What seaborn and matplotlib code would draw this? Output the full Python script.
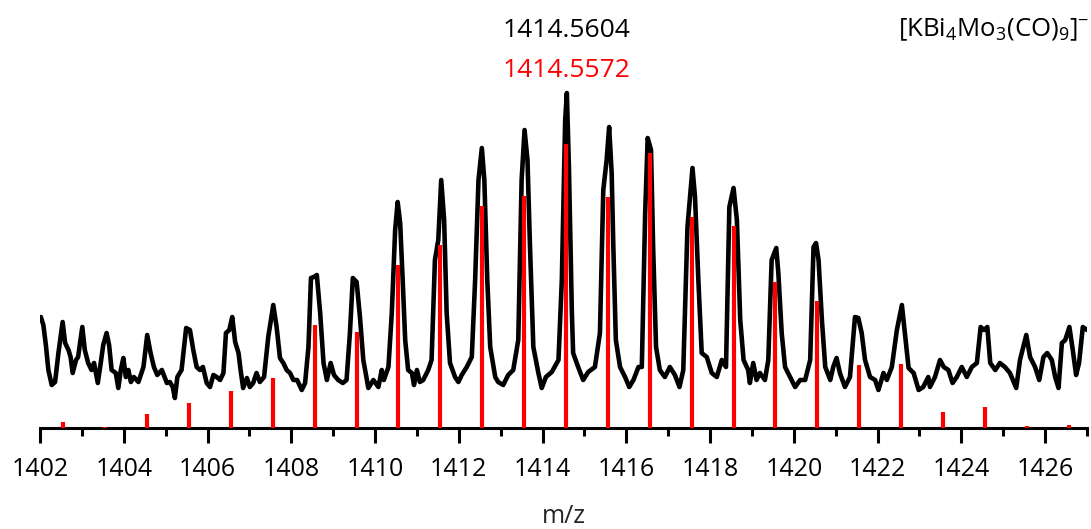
import numpy as np
import pandas as pd
import seaborn as sns
import matplotlib.pyplot as plt
from matplotlib.ticker import MultipleLocator

# experimental trace (m/z, intensity in arbitrary units)
exp_mz = [
    1402.02, 1402.08, 1402.14, 1402.20, 1402.28, 1402.36, 1402.44, 1402.54, 1402.60, 1402.68,
    1402.73, 1402.78, 1402.86, 1402.91, 1403.01, 1403.07, 1403.15, 1403.23, 1403.29, 1403.38,
    1403.45, 1403.51, 1403.59, 1403.65, 1403.71, 1403.81, 1403.87, 1403.93, 1403.99, 1404.05,
    1404.11, 1404.17, 1404.24, 1404.35, 1404.47, 1404.56, 1404.64, 1404.72, 1404.80, 1404.91,
    1405.03, 1405.10, 1405.17, 1405.22, 1405.28, 1405.38, 1405.49, 1405.58, 1405.66, 1405.74,
    1405.82, 1405.89, 1405.98, 1406.06, 1406.14, 1406.22, 1406.30, 1406.38, 1406.44, 1406.52,
    1406.59, 1406.66, 1406.74, 1406.79, 1406.85, 1406.94, 1407.01, 1407.09, 1407.17, 1407.25,
    1407.35, 1407.45, 1407.57, 1407.65, 1407.73, 1407.81, 1407.89, 1407.97, 1408.05, 1408.14,
    1408.25, 1408.33, 1408.41, 1408.47, 1408.54, 1408.61, 1408.69, 1408.77, 1408.85, 1408.94,
    1409.02, 1409.12, 1409.23, 1409.32, 1409.40, 1409.47, 1409.56, 1409.64, 1409.72, 1409.84,
    1409.96, 1410.08, 1410.16, 1410.21, 1410.32, 1410.40, 1410.48, 1410.54, 1410.60, 1410.66,
    1410.72, 1410.79, 1410.88, 1410.93, 1411.00, 1411.07, 1411.15, 1411.27, 1411.35, 1411.43,
    1411.51, 1411.58, 1411.65, 1411.71, 1411.79, 1411.91, 1411.99, 1412.07, 1412.19, 1412.31,
    1412.39, 1412.47, 1412.55, 1412.61, 1412.68, 1412.75, 1412.87, 1412.94, 1413.06, 1413.18,
    1413.30, 1413.42, 1413.50, 1413.57, 1413.64, 1413.70, 1413.78, 1413.90, 1413.98, 1414.08,
    1414.22, 1414.38, 1414.46, 1414.54, 1414.58, 1414.63, 1414.70, 1414.73, 1414.85, 1414.97,
    1415.09, 1415.25, 1415.37, 1415.45, 1415.53, 1415.59, 1415.65, 1415.69, 1415.75, 1415.85,
    1415.97, 1416.07, 1416.17, 1416.29, 1416.37, 1416.45, 1416.51, 1416.59, 1416.64, 1416.71,
    1416.80, 1416.92, 1417.04, 1417.16, 1417.27, 1417.36, 1417.46, 1417.58, 1417.64, 1417.72,
    1417.80, 1417.92, 1418.04, 1418.16, 1418.28, 1418.38, 1418.46, 1418.56, 1418.64, 1418.72,
    1418.80, 1418.91, 1418.95, 1419.03, 1419.11, 1419.19, 1419.31, 1419.39, 1419.47, 1419.58,
    1419.63, 1419.71, 1419.79, 1419.91, 1420.03, 1420.15, 1420.27, 1420.39, 1420.47, 1420.53,
    1420.59, 1420.67, 1420.75, 1420.87, 1420.94, 1421.02, 1421.10, 1421.22, 1421.34, 1421.46,
    1421.54, 1421.62, 1421.70, 1421.82, 1421.94, 1422.02, 1422.14, 1422.22, 1422.34, 1422.46,
    1422.58, 1422.66, 1422.74, 1422.86, 1422.98, 1423.09, 1423.21, 1423.25, 1423.37, 1423.49,
    1423.58, 1423.69, 1423.79, 1423.89, 1424.01, 1424.13, 1424.25, 1424.37, 1424.46, 1424.54,
    1424.62, 1424.69, 1424.81, 1424.92, 1425.04, 1425.16, 1425.31, 1425.40, 1425.55, 1425.64,
    1425.76, 1425.86, 1425.96, 1426.05, 1426.16, 1426.24, 1426.32, 1426.40, 1426.48, 1426.58,
    1426.66, 1426.74, 1426.81, 1426.90, 1427.00,
]
exp_int = [
    111, 103, 83, 58, 43, 46, 75, 106, 85, 78,
    71, 55, 68, 71, 101, 78, 65, 58, 65, 45,
    65, 83, 95, 83, 58, 55, 40, 58, 70, 51,
    58, 46, 51, 46, 61, 93, 75, 61, 53, 58,
    45, 46, 41, 30, 51, 58, 100, 98, 78, 61,
    58, 61, 45, 41, 53, 51, 48, 55, 95, 98,
    111, 86, 75, 58, 40, 50, 41, 45, 55, 46,
    51, 91, 123, 101, 70, 65, 58, 55, 48, 48,
    38, 45, 81, 150, 151, 153, 115, 65, 48, 65,
    53, 48, 45, 48, 95, 150, 146, 111, 68, 40,
    48, 41, 58, 48, 61, 115, 198, 226, 205, 148,
    88, 58, 55, 43, 58, 46, 48, 58, 68, 168,
    188, 248, 208, 115, 65, 51, 46, 53, 61, 71,
    148, 248, 280, 248, 148, 81, 51, 46, 43, 53,
    58, 88, 248, 298, 268, 181, 81, 55, 40, 51,
    56, 68, 148, 308, 335, 260, 115, 75, 61, 48,
    56, 61, 95, 238, 268, 301, 255, 181, 88, 61,
    51, 41, 48, 61, 61, 215, 290, 278, 181, 81,
    58, 51, 61, 53, 41, 58, 201, 260, 231, 148,
    75, 71, 55, 51, 68, 61, 221, 240, 208, 108,
    68, 58, 45, 65, 48, 55, 48, 68, 168, 180,
    155, 95, 61, 51, 41, 48, 48, 68, 181, 185,
    168, 108, 61, 48, 61, 70, 55, 41, 51, 111,
    110, 95, 68, 51, 48, 38, 55, 48, 61, 98,
    123, 91, 60, 55, 38, 41, 51, 41, 51, 68,
    61, 58, 45, 51, 61, 51, 61, 65, 101, 98,
    101, 65, 58, 65, 61, 55, 40, 68, 93, 71,
    61, 48, 71, 75, 68, 51, 40, 85, 88, 101,
    78, 53, 65, 101, 98,
]

# simulated isotope pattern (stick spectrum)
sim_mz = [1402.56, 1403.56, 1404.56, 1405.56, 1406.56, 1407.56, 1408.56, 1409.56,
          1410.56, 1411.56, 1412.56, 1413.56, 1414.56, 1415.56, 1416.56, 1417.56,
          1418.56, 1419.56, 1420.56, 1421.56, 1422.56, 1423.56, 1424.56, 1425.56,
          1426.56]
sim_int = [6, 1.5, 14, 25, 37, 50, 103, 96,
           163, 183, 222, 232, 284, 231, 275, 211,
           202, 146, 127, 63, 64, 16, 21, 2,
           3]

exp_label = "1414.5604"
sim_label = "1414.5572"
formula = r"[KBi$_4$Mo$_3$(CO)$_9$]$^{-}$"

sns.set_theme(style="ticks")
plt.rcParams['font.family'] = ['Open Sans', 'DejaVu Sans']
plt.rcParams['mathtext.fontset'] = 'custom'
plt.rcParams['mathtext.rm'] = 'Open Sans'
plt.rcParams['mathtext.it'] = 'Open Sans'
plt.rcParams['mathtext.default'] = 'regular'

exp_df = pd.DataFrame({'mz': exp_mz, 'intensity': exp_int})

fig = plt.figure(figsize=(10.91, 5.29), dpi=100)
ax = fig.add_axes([40 / 1091, 101 / 529, 1047 / 1091, 428 / 529])

sns.lineplot(data=exp_df, x='mz', y='intensity', sort=False, estimator=None,
             color='black', linewidth=3.3, ax=ax, zorder=2,
             solid_joinstyle='round', solid_capstyle='round')
ax.vlines(sim_mz, 0, sim_int, color='#ff0000', linewidth=3, zorder=3)

ax.set_xlim(1402, 1427)
ax.set_ylim(0, 428)
ax.xaxis.set_major_locator(MultipleLocator(2))
ax.xaxis.set_minor_locator(MultipleLocator(1))
ax.tick_params(axis='x', which='major', direction='out', length=11, width=2.2,
               labelsize=18, pad=10, color='black', labelcolor='black')
ax.tick_params(axis='x', which='minor', direction='out', length=5.5, width=2.2,
               color='black')
ax.set_yticks([])
sns.despine(ax=ax, left=True, top=True, right=True)
ax.spines['bottom'].set_linewidth(2.2)
ax.spines['bottom'].set_color('black')
ax.set_xlabel('m/z', fontsize=18, labelpad=16)
ax.set_ylabel('')

ax.text(1414.5604, 398, exp_label, ha='center', va='center', fontsize=19, color='black')
ax.text(1414.5604, 358, sim_label, ha='center', va='center', fontsize=19, color='#ff0000')
ax.text(1422.48, 398, formula, ha='left', va='center', fontsize=18.5, color='black',
        clip_on=False)

fig.savefig('out.png', dpi=100)
